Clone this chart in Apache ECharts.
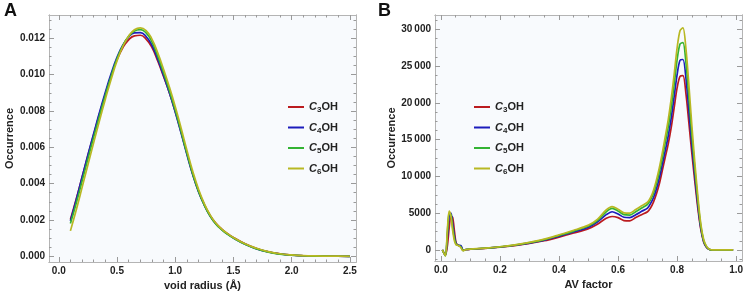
<!DOCTYPE html>
<html>
<head>
<meta charset="UTF-8">
<title>void radius / AV factor</title>
<style>
  html, body, #main { margin: 0; padding: 0; width: 748px; height: 297px; background: #fff; overflow: hidden; }
</style>
</head>
<body>
<div id="main"></div>
<script src="https://cdn.jsdelivr.net/npm/echarts@6/dist/echarts.min.js"></script>
<script>
// series names
const names = ['C3OH', 'C4OH', 'C5OH', 'C6OH'];
const colors = ['#bb1b1f', '#1c1cbc', '#33b333', '#b8b823'];

// panel A: void radius (Å)
const radius = [0.10, 0.15, 0.20, 0.25, 0.30, 0.35, 0.40, 0.45, 0.50, 0.55, 0.60, 0.65, 0.70, 0.75,
  0.80, 0.85, 0.90, 0.95, 1.00, 1.05, 1.10, 1.15, 1.20, 1.25, 1.30, 1.35, 1.40, 1.45, 1.50,
  1.6, 1.7, 1.8, 1.9, 2.0, 2.1, 2.2, 2.3, 2.4, 2.5];
const voidC3 = [0.00202, 0.00315, 0.00435, 0.00555, 0.00670, 0.00785, 0.00893, 0.00995, 0.01082, 0.01148,
  0.01192, 0.01214, 0.01217, 0.01196, 0.01150, 0.01075, 0.00990, 0.00900, 0.00798, 0.00685, 0.00568,
  0.00455, 0.00360, 0.00285, 0.00225, 0.00181, 0.00150, 0.00125, 0.00104,
  0.00069, 0.00043, 0.00025, 0.00014, 0.00007, 0.00003, 0.000015, 0.000007, 0.000003, 0.000001];
const voidC4 = [0.00195, 0.00312, 0.00435, 0.00558, 0.00676, 0.00793, 0.00903, 0.01006, 0.01095, 0.01162,
  0.01207, 0.01230, 0.01232, 0.01210, 0.01162, 0.01085, 0.00995, 0.00900, 0.00795, 0.00680, 0.00562,
  0.00450, 0.00356, 0.00282, 0.00222, 0.00178, 0.00147, 0.00122, 0.00101,
  0.00067, 0.00041, 0.00024, 0.00013, 0.00006, 0.00003, 0.000014, 0.000006, 0.000003, 0.000001];
const voidC5 = [0.00180, 0.00292, 0.00413, 0.00536, 0.00656, 0.00774, 0.00887, 0.00993, 0.01087, 0.01160,
  0.01211, 0.01240, 0.01248, 0.01230, 0.01180, 0.01102, 0.01010, 0.00912, 0.00805, 0.00688, 0.00568,
  0.00455, 0.00358, 0.00282, 0.00221, 0.00177, 0.00146, 0.00121, 0.00100,
  0.00066, 0.00041, 0.00023, 0.00012, 0.00006, 0.00003, 0.000013, 0.000006, 0.000002, 0.000001];
const voidC6 = [0.00140, 0.00255, 0.00378, 0.00503, 0.00626, 0.00748, 0.00865, 0.00975, 0.01075, 0.01155,
  0.01212, 0.01247, 0.01258, 0.01243, 0.01196, 0.01120, 0.01030, 0.00932, 0.00825, 0.00708, 0.00586,
  0.00470, 0.00370, 0.00290, 0.00228, 0.00182, 0.00150, 0.00125, 0.00104,
  0.00069, 0.00044, 0.00026, 0.00014, 0.00008, 0.00004, 0.000018, 0.000008, 0.000004, 0.000002];

// panel B: AV factor
const avFactor = [0.005, 0.015, 0.022, 0.028, 0.034, 0.040, 0.046, 0.052, 0.060, 0.068, 0.075, 0.085, 0.10,
  0.15, 0.20, 0.25, 0.30, 0.35, 0.40, 0.45, 0.50, 0.53, 0.56, 0.58, 0.60, 0.62, 0.64, 0.66, 0.68,
  0.70, 0.71, 0.72, 0.73, 0.74, 0.75, 0.76, 0.77, 0.78, 0.79, 0.80, 0.81, 0.82, 0.83, 0.84, 0.85,
  0.86, 0.87, 0.88, 0.89, 0.90, 0.91, 0.92, 0.95, 0.99];
const avC3 = [0, -700, 600, 3000, 4600, 4400, 2500, 900, 600, 450, -50, 50, 100,
  220, 380, 600, 880, 1250, 1750, 2300, 2900, 3500, 4300, 4550, 4400, 4000, 3950, 4400, 4800,
  5200, 5700, 6500, 7600, 9000, 10800, 12600, 14400, 16600, 19300, 22000, 23600, 23700, 21300, 17300, 13200,
  9400, 5800, 2900, 1100, 350, 60, 0, 0, 0];
const avC4 = [0, -750, 1800, 4600, 5000, 3500, 1800, 800, 650, 600, 0, 60, 110,
  230, 400, 640, 940, 1330, 1880, 2450, 3100, 3800, 4800, 5200, 4900, 4450, 4400, 4800, 5250,
  5700, 6300, 7100, 8300, 9800, 11600, 13500, 15500, 17900, 20800, 23800, 25800, 25900, 23400, 19000, 14400,
  10200, 6300, 3100, 1200, 380, 70, 0, 0, 0];
const avC5 = [0, -800, 2400, 5000, 4800, 3000, 1500, 750, 600, 400, -80, 60, 115,
  240, 420, 670, 990, 1400, 1970, 2570, 3250, 4000, 5200, 5650, 5300, 4800, 4750, 5200, 5700,
  6200, 6800, 7700, 9000, 10600, 12500, 14600, 16700, 19300, 22400, 25800, 28000, 28200, 25500, 20800, 15700,
  11100, 6900, 3400, 1300, 420, 80, 0, 0, 0];
const avC6 = [0, -800, 2800, 5300, 4600, 2600, 1200, 700, 600, 300, -100, 60, 120,
  250, 440, 700, 1040, 1470, 2060, 2680, 3380, 4150, 5450, 5900, 5550, 5050, 5000, 5500, 6000,
  6500, 7100, 8100, 9500, 11200, 13200, 15400, 17700, 20500, 23800, 27400, 29800, 30200, 27400, 22500, 17000,
  12000, 7500, 3700, 1450, 480, 90, 0, 0, 0];

// tick labels
const radiusTicks = [0, 0.5, 1.0, 1.5, 2.0, 2.5];
const occTicksA = [0, 0.002, 0.004, 0.006, 0.008, 0.010, 0.012];
const avTicks = [0, 0.2, 0.4, 0.6, 0.8, 1.0];
const occTicksB = [0, 5000, 10000, 15000, 20000, 25000, 30000];

const frameColor = '#b4b4b4';
const tickColor = '#9a9a9a';

function steps(min, max, step) {
  const out = [];
  for (let v = Math.ceil(min / step) * step; v <= max + 1e-9; v += step) out.push(+v.toFixed(6));
  return out;
}

// one value axis that draws frame line + ticks; labels only on the main one
function axis(opt) {
  return {
    type: 'value',
    gridIndex: opt.grid,
    position: opt.position,
    min: opt.min,
    max: opt.max,
    name: opt.name || '',
    nameLocation: 'middle',
    nameGap: opt.nameGap || 0,
    nameTextStyle: { fontFamily: 'Liberation Sans', fontWeight: 'bold', fontSize: 11, color: '#222' },
    axisLine: { show: true, onZero: false, lineStyle: { color: frameColor, width: 1 } },
    axisTick: { show: true, inside: true, length: opt.len, customValues: opt.ticks,
      lineStyle: { color: tickColor, width: 1 } },
    axisLabel: { show: !!opt.labels, customValues: opt.ticks, formatter: opt.labels,
      fontFamily: 'Liberation Sans', fontWeight: 'bold', fontSize: 10, color: '#222', margin: 4 },
    splitLine: { show: false },
    minorTick: { show: false }
  };
}

function frame(grid, min, max, major, minorStep, isX, labels, name, nameGap) {
  const minor = steps(min, max, minorStep).filter(v => !major.some(m => Math.abs(m - v) < 1e-9));
  const a = isX ? ['bottom', 'top'] : ['left', 'right'];
  return [
    axis({ grid, position: a[0], min, max, ticks: major, len: 5, labels, name, nameGap }),
    axis({ grid, position: a[0], min, max, ticks: minor, len: 2.5 }),
    axis({ grid, position: a[1], min, max, ticks: major, len: 5 }),
    axis({ grid, position: a[1], min, max, ticks: minor, len: 2.5 })
  ];
}

function groupThousands(v) {
  if (v < 10000) return String(v);
  const s = String(v);
  return s.slice(0, s.length - 3) + '\u2009' + s.slice(-3);
}

const xAxes = [
  ...frame(0, -0.084, 2.553, radiusTicks, 0.1, true, v => v.toFixed(1), 'void radius (Å)', 18),
  ...frame(1, -0.02, 1.02, avTicks, 0.05, true, v => v.toFixed(1), 'AV factor', 18)
];
const yAxes = [
  ...frame(0, -0.000314, 0.013285, occTicksA, 0.0005, false, v => v.toFixed(3), 'Occurrence', 34),
  ...frame(1, -1500, 31950, occTicksB, 1250, false, groupThousands, 'Occurrence', 38)
];

function lineSeries(i, xs, ys, axisIdx, smooth) {
  return {
    name: names[i],
    type: 'line',
    xAxisIndex: axisIdx,
    yAxisIndex: axisIdx,
    data: xs.map((x, k) => [x, ys[k]]),
    showSymbol: false,
    symbol: 'none',
    smooth: smooth,
    lineStyle: { color: colors[i], width: 1.7 },
    itemStyle: { color: colors[i] },
    silent: true
  };
}

const voidSets = [voidC3, voidC4, voidC5, voidC6];
const avSets = [avC3, avC4, avC5, avC6];

const rich = {
  i: { fontFamily: 'Liberation Sans', fontWeight: 'bold', fontStyle: 'italic', fontSize: 11, color: '#222', lineHeight: 14 },
  s: { fontFamily: 'Liberation Sans', fontWeight: 'bold', fontSize: 8, color: '#222', lineHeight: 8, verticalAlign: 'bottom', padding: [5, 0, 0, 0] },
  n: { fontFamily: 'Liberation Sans', fontWeight: 'bold', fontSize: 11, color: '#222', lineHeight: 14 }
};
function legendText(name) {
  return '{i|C}{s|' + name.charAt(1) + '}{n|OH}';
}
function legend(left, top) {
  return {
    data: names.map((n, i) => ({ name: n, icon: 'rect', itemStyle: { color: colors[i] } })),
    left, top, orient: 'vertical', itemWidth: 16, itemHeight: 2, itemGap: 7.5,
    selectedMode: false, formatter: legendText, textStyle: { rich }
  };
}

const option = {
  animation: false,
  backgroundColor: '#ffffff',
  grid: [
    { left: 49, right: 392, top: 15, bottom: 35, show: true, backgroundColor: '#f8fafd', borderWidth: 0 },
    { left: 435, right: 6, top: 15, bottom: 36, show: true, backgroundColor: '#f8fafd', borderWidth: 0 }
  ],
  xAxis: xAxes,
  yAxis: yAxes,
  legend: [legend(283, 96), legend(469, 96)],
  graphic: [
    { type: 'text', left: 4, top: 2, style: { text: 'A', font: 'bold 18px "Liberation Sans"', fill: '#111' } },
    { type: 'text', left: 378, top: 2, style: { text: 'B', font: 'bold 18px "Liberation Sans"', fill: '#111' } }
  ],
  series: [
    ...voidSets.map((ys, i) => lineSeries(i, radius, ys, 0, true)),
    ...avSets.map((ys, i) => lineSeries(i, avFactor, ys, 4, 0.3))
  ]
};

const chart = echarts.init(document.getElementById('main'), null, { renderer: 'canvas' });
chart.setOption(option);
</script>
</body>
</html>
